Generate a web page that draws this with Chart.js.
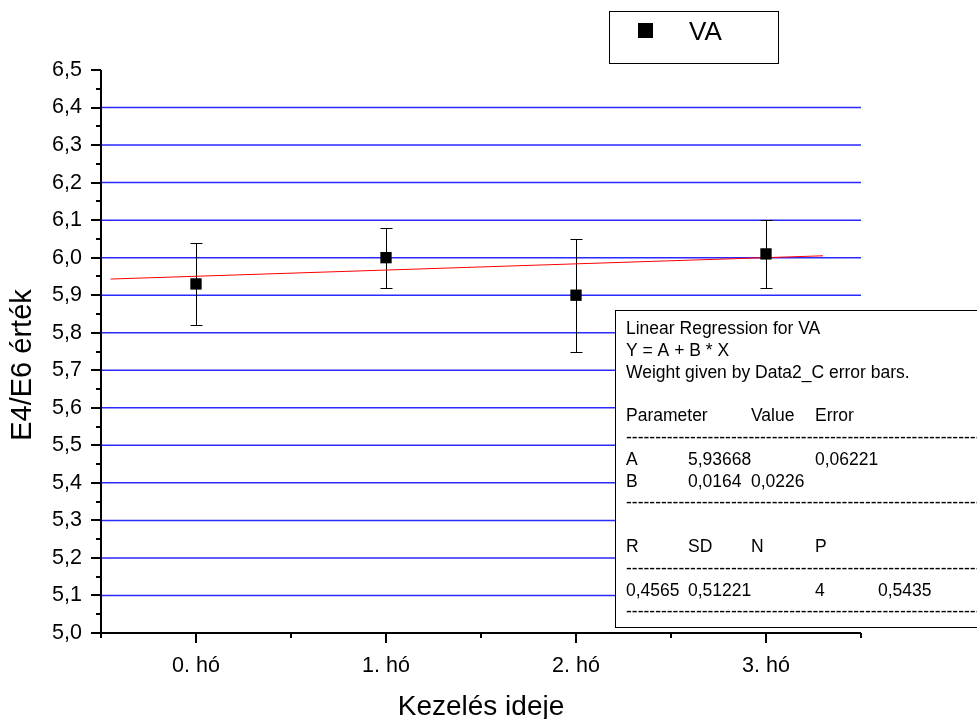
<!DOCTYPE html>
<html lang="hu">
<head>
<meta charset="UTF-8">
<title>E4/E6 érték – Kezelés ideje</title>
<script src="https://cdn.jsdelivr.net/npm/chart.js"></script>
<style>
  body { margin: 0; background: #fff; }
  canvas { display: block; }
</style>
</head>
<body>
<canvas id="chart" width="977" height="719"></canvas>
<script>
  // values
  const months = ['0. hó', '1. hó', '2. hó', '3. hó'];
  const vaMeans = [5.93, 6.00, 5.90, 6.01];
  const vaErrors = [0.11, 0.08, 0.15, 0.09];
  // fitted line as drawn (ends of the red segment)
  const fitX = [-0.45, 3.3];
  const fitY = [5.943, 6.005];

  const DASHES = '-'.repeat(90);
  const fitReport = [
    'Linear Regression for VA',
    'Y = A + B * X',
    'Weight given by Data2_C error bars.',
    '',
    'Parameter\t\tValue\tError',
    DASHES,
    'A\t5,93668\t\t0,06221',
    'B\t0,0164\t0,0226',
    DASHES,
    '',
    'R\tSD\tN\tP',
    DASHES,
    '0,4565\t0,51221\t\t4\t0,5435',
    DASHES
  ];

  const FONT = "'Liberation Sans', Arial, sans-serif";
  Chart.defaults.font.family = FONT;
  Chart.defaults.color = '#000';

  // grid, error bars, axes, ticks, titles, legend and the regression box
  const decorations = {
    id: 'decorations',
    beforeDatasetsDraw(chart) {
      const { ctx, chartArea: a, scales: { x, y } } = chart;
      ctx.save();
      // blue grid at the inner major ticks
      ctx.strokeStyle = '#2a2aff';
      ctx.lineWidth = 1.5;
      for (let k = 1; k < 15; k++) {
        const py = y.getPixelForValue(5 + k * 0.1);
        ctx.beginPath();
        ctx.moveTo(a.left, py);
        ctx.lineTo(a.right, py);
        ctx.stroke();
      }
      // error bars
      ctx.strokeStyle = '#000';
      ctx.lineWidth = 1;
      vaMeans.forEach((m, i) => {
        const px = Math.round(x.getPixelForValue(i)) + 0.5;
        const top = Math.round(y.getPixelForValue(m + vaErrors[i])) + 0.5;
        const bot = Math.round(y.getPixelForValue(m - vaErrors[i])) + 0.5;
        ctx.beginPath();
        ctx.moveTo(px, top); ctx.lineTo(px, bot);
        ctx.moveTo(px - 6, top); ctx.lineTo(px + 6, top);
        ctx.moveTo(px - 6, bot); ctx.lineTo(px + 6, bot);
        ctx.stroke();
      });
      ctx.restore();
    },
    afterDraw(chart) {
      const { ctx, chartArea: a, scales: { x, y } } = chart;
      ctx.save();

      // axis lines
      ctx.strokeStyle = '#000';
      ctx.lineWidth = 2;
      ctx.beginPath();
      ctx.moveTo(a.left, a.top);
      ctx.lineTo(a.left, a.bottom);
      ctx.lineTo(a.right, a.bottom);
      ctx.stroke();

      // y ticks, major every 0.1, minor every 0.05
      for (let k = 0; k <= 30; k++) {
        const py = Math.round(y.getPixelForValue(5 + k * 0.05));
        const len = k % 2 === 0 ? 10 : 5;
        ctx.beginPath();
        ctx.moveTo(a.left - len, py);
        ctx.lineTo(a.left, py);
        ctx.stroke();
      }
      // x ticks, major at each month, minor half way
      for (let k = 0; k <= 8; k++) {
        const px = Math.round(x.getPixelForValue(-0.5 + k * 0.5));
        const len = k % 2 === 1 ? 10 : 5;
        ctx.beginPath();
        ctx.moveTo(px, a.bottom);
        ctx.lineTo(px, a.bottom + len);
        ctx.stroke();
      }

      // axis titles
      ctx.fillStyle = '#000';
      ctx.textAlign = 'center';
      ctx.textBaseline = 'alphabetic';
      ctx.font = `28px ${FONT}`;
      ctx.fillText('Kezelés ideje', 481, 715);
      ctx.save();
      ctx.translate(31, 365);
      ctx.rotate(-Math.PI / 2);
      ctx.font = `29px ${FONT}`;
      ctx.fillText('E4/E6 érték', 0, 0);
      ctx.restore();

      // legend box
      ctx.lineWidth = 1;
      ctx.strokeRect(609.5, 11.5, 169, 52);
      ctx.fillRect(638, 23, 15, 15);
      ctx.font = `26px ${FONT}`;
      ctx.textAlign = 'left';
      ctx.fillText('VA', 689, 40);

      // regression report box
      ctx.fillStyle = '#fff';
      ctx.fillRect(615.5, 310.5, 400, 317);
      ctx.strokeRect(615.5, 310.5, 400, 317);
      ctx.fillStyle = '#000';
      ctx.font = `17.5px ${FONT}`;
      const tabStops = [626, 688, 751, 815, 878];
      fitReport.forEach((line, i) => {
        const base = 334 + i * 21.8;
        line.split('\t').forEach((part, c) => {
          if (part) ctx.fillText(part, tabStops[c], base);
        });
      });
      ctx.restore();
    }
  };

  new Chart(document.getElementById('chart'), {
    type: 'scatter',
    data: {
      datasets: [
        {
          type: 'line',
          label: 'fit',
          data: fitX.map((v, i) => ({ x: v, y: fitY[i] })),
          borderColor: '#ff0000',
          borderWidth: 1,
          pointRadius: 0,
          fill: false,
          order: 2
        },
        {
          label: 'VA',
          data: vaMeans.map((v, i) => ({ x: i, y: v })),
          pointStyle: 'rect',
          pointRadius: 8,
          backgroundColor: '#000',
          borderColor: '#000',
          borderWidth: 0,
          order: 1
        }
      ]
    },
    options: {
      responsive: false,
      animation: false,
      layout: { padding: { top: 70, right: 116, left: 0, bottom: 0 } },
      plugins: { legend: { display: false }, tooltip: { enabled: false } },
      scales: {
        x: {
          type: 'linear',
          min: -0.5,
          max: 3.5,
          afterBuildTicks: s => { s.ticks = months.map((m, i) => ({ value: i })); },
          afterFit: s => { s.height = 86; },
          grid: { display: false, drawTicks: false },
          border: { display: false },
          ticks: {
            callback: v => months[v],
            font: { size: 21.5 },
            padding: 20,
            maxRotation: 0,
            autoSkip: false
          }
        },
        y: {
          min: 5,
          max: 6.5,
          afterFit: s => { s.width = 101; },
          grid: { display: false, drawTicks: false },
          border: { display: false },
          ticks: {
            stepSize: 0.1,
            padding: 19,
            font: { size: 21.5 },
            callback: v => v.toFixed(1).replace('.', ',')
          }
        }
      }
    },
    plugins: [decorations]
  });
</script>
</body>
</html>
